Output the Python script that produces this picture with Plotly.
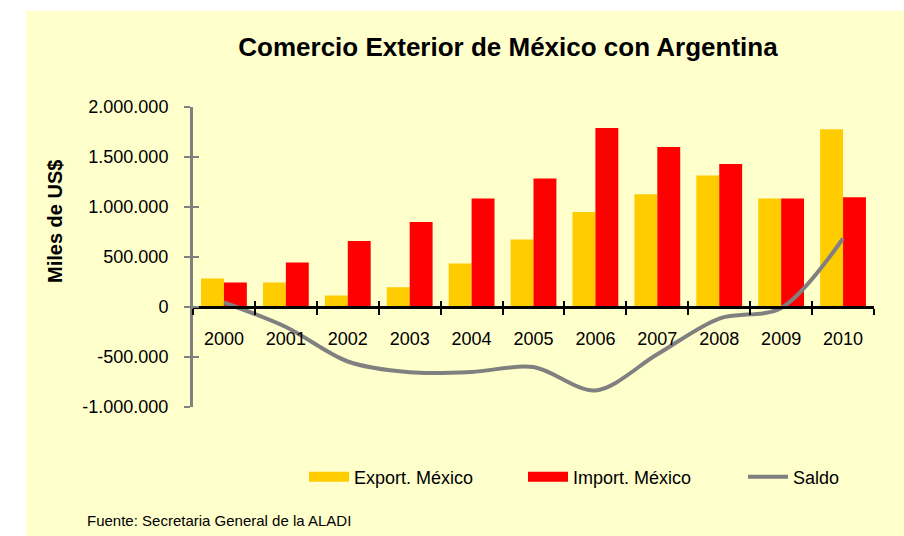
import plotly.graph_objects as go

# ---- data (miles de US$) ----
years = ["2000", "2001", "2002", "2003", "2004", "2005", "2006", "2007", "2008", "2009", "2010"]
export_mexico = [285000, 245000, 115000, 198000, 434000, 674000, 950000, 1127000, 1314000, 1084000, 1777000]
import_mexico = [245000, 444000, 660000, 850000, 1084000, 1284000, 1790000, 1600000, 1430000, 1084000, 1097000]
saldo = [45000, -200000, -545000, -652000, -650000, -600000, -835000, -473000, -116000, -10000, 685000]

y_tickvals = [-1000000, -500000, 0, 500000, 1000000, 1500000, 2000000]
y_ticktext = ["-1.000.000", "-500.000", "0", "500.000", "1.000.000", "1.500.000", "2.000.000"]

title_text = "Comercio Exterior de México con Argentina"
y_title = "Miles de US$"
source_text = "Fuente: Secretaria General de la ALADI"

FONT = "Arial, Liberation Sans, sans-serif"
W, H = 904, 536
L, R, T, B = 193, 30, 107, 129
pw, ph = W - L - R, H - T - B

def px(x):
    return (x - L) / pw

def py(y):
    return (H - B - y) / ph

C_EXP, C_IMP, C_SAL = "#FFCC00", "#FF0000", "#808080"

fig = go.Figure()
fig.add_trace(go.Bar(x=years, y=export_mexico, name="Export. México", showlegend=False,
                     marker=dict(color=C_EXP, line=dict(width=0))))
fig.add_trace(go.Bar(x=years, y=import_mexico, name="Import. México", showlegend=False,
                     marker=dict(color=C_IMP, line=dict(width=0))))
fig.add_trace(go.Scatter(x=years, y=saldo, name="Saldo", mode="lines", legend="legend3",
                         line=dict(color=C_SAL, width=4, shape="spline", smoothing=0.9)))
# legend entries with wide swatches for the bar series
fig.add_trace(go.Scatter(x=[None], y=[None], name="Export. México", mode="lines",
                         legend="legend", line=dict(color=C_EXP, width=12), hoverinfo="skip"))
fig.add_trace(go.Scatter(x=[None], y=[None], name="Import. México", mode="lines",
                         legend="legend2", line=dict(color=C_IMP, width=12), hoverinfo="skip"))

yr = [-1000000, 2000000]
zero_pos = (0 - yr[0]) / (yr[1] - yr[0])

leg_common = dict(orientation="h", xanchor="left", yanchor="middle", y=py(477),
                  font=dict(size=18, family=FONT), itemwidth=40,
                  bgcolor="rgba(0,0,0,0)", itemclick=False, itemdoubleclick=False)

fig.update_layout(
    width=W, height=H,
    margin=dict(l=L, r=R, t=T, b=B, pad=0),
    paper_bgcolor="white",
    plot_bgcolor="rgba(0,0,0,0)",
    font=dict(family=FONT, size=17, color="black"),
    barmode="group", bargap=0.26, bargroupgap=0,
    showlegend=True,
    legend=dict(x=px(304), **leg_common),
    legend2=dict(x=px(523), **leg_common),
    legend3=dict(x=px(743), **leg_common),
    title=dict(text="<b>%s</b>" % title_text, x=508 / W, xanchor="center",
               y=1 - 47 / H, yanchor="middle", font=dict(size=26, family=FONT)),
    xaxis=dict(type="category", anchor="free", position=zero_pos,
               showline=True, linecolor="black", linewidth=3,
               ticks="outside", ticklen=6, tickwidth=2, tickcolor="black",
               tickson="boundaries", showgrid=False, zeroline=False,
               ticklabelstandoff=14, tickfont=dict(size=18)),
    xaxis2=dict(overlaying="x", anchor="free", position=zero_pos, range=[-0.5, 10.5],
                showline=False, showticklabels=False, ticks="inside", ticklen=6, tickwidth=2,
                tickcolor="black", tickmode="array", tickvals=[i - 0.5 for i in range(12)],
                showgrid=False, zeroline=False),
    yaxis=dict(range=yr, tickmode="array", tickvals=y_tickvals, ticktext=y_ticktext,
               showline=True, linecolor=C_SAL, linewidth=3,
               ticks="outside", ticklen=6, tickwidth=2, tickcolor=C_SAL,
               showgrid=False, zeroline=False, ticklabelstandoff=12,
               tickfont=dict(size=18)),
    yaxis2=dict(range=yr, overlaying="y", anchor="x", side="left", tickmode="array",
                tickvals=y_tickvals, showticklabels=False, showline=False,
                ticks="inside", ticklen=6, tickwidth=2, tickcolor=C_SAL,
                showgrid=False, zeroline=False),
)

# invisible trace to activate the secondary (tick) axes
fig.add_trace(go.Scatter(x=[0], y=[0], xaxis="x2", yaxis="y2", mode="markers",
                         marker=dict(opacity=0), showlegend=False, hoverinfo="skip"))

fig.add_shape(type="rect", xref="paper", yref="paper", layer="below",
              x0=px(26), x1=px(910), y0=py(540), y1=py(11),
              fillcolor="#FFFFCC", line=dict(width=0))

fig.add_annotation(text="<b>%s</b>" % y_title, xref="paper", yref="paper",
                   x=px(55), y=py(222), textangle=-90, showarrow=False,
                   font=dict(size=20, family=FONT), xanchor="center", yanchor="middle")
fig.add_annotation(text=source_text, xref="paper", yref="paper",
                   x=px(85), y=py(520), showarrow=False, xanchor="left", yanchor="middle",
                   font=dict(size=15, family=FONT))

fig.write_html("out.html", config={"displayModeBar": False},
               post_script="document.body.style.margin='0';")
